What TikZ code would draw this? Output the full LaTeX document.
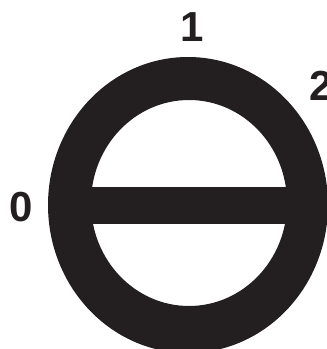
\documentclass[tikz,border=0pt]{standalone}
\usepackage{fontspec}
\setmainfont{Liberation Sans}
\definecolor{ink}{HTML}{231F20}

\begin{document}
\begin{tikzpicture}[
    x=1pt, y=1pt,
    ring/.style={fill=ink, even odd rule},
    bar/.style={fill=ink},
    tick/.style={font=\fontsize{42}{44}\selectfont\bfseries, text=ink, inner sep=0pt},
]

    \useasboundingbox (0,0) rectangle (327,349);

    \fill[ring] (188,144) ellipse [x radius=140, y radius=148]
                (189,146) ellipse [x radius=98, y radius=103];
    \fill[bar] (90,125) rectangle (288,162);

    \node[tick] (zero) at (21,142) {0};
    \node[tick] (one) at (192,322) {1};
    \node[tick] (two) at (321,263) {2};

\end{tikzpicture}
\end{document}
